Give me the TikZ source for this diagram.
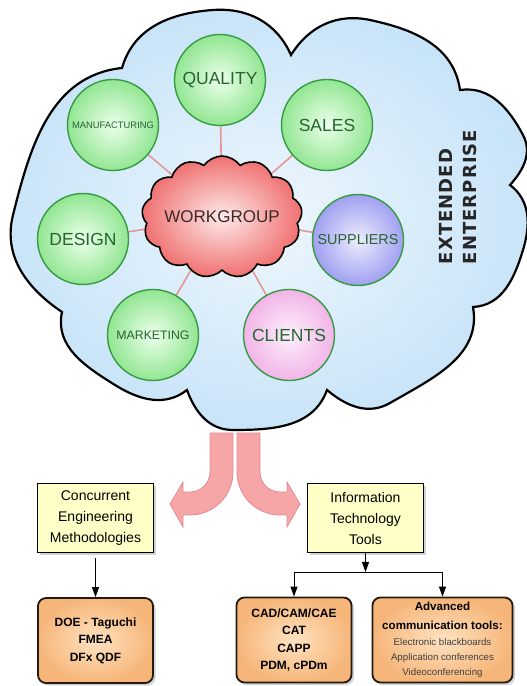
\documentclass[tikz,border=0pt]{standalone}
\usepackage{fontspec}
\setmainfont{Liberation Sans}
\newfontfamily\widefont[LetterSpace=6]{DejaVu Sans Bold}
\usetikzlibrary{shapes.symbols,shadows,arrows.meta,backgrounds,positioning}

\definecolor{skyblue}{RGB}{200,228,248}
\definecolor{mint}{RGB}{236,255,236}
\definecolor{leafgreen}{RGB}{146,230,146}
\definecolor{ringgreen}{RGB}{55,155,65}
\definecolor{textgreen}{RGB}{38,100,50}
\definecolor{supblue}{RGB}{160,160,242}
\definecolor{clipink}{RGB}{242,180,232}
\definecolor{wgred}{RGB}{240,112,112}
\definecolor{linkpink}{RGB}{228,150,150}
\definecolor{forkpink}{RGB}{246,166,166}
\definecolor{forkedge}{RGB}{226,140,150}
\definecolor{paleyellow}{RGB}{255,255,200}
\definecolor{boxorange}{RGB}{246,182,122}
\definecolor{boxlight}{RGB}{255,226,192}

\newcommand\commline[1]{{\normalfont\fontsize{9.7}{14}\selectfont\color{black!75}#1}}

\tikzset{
  dept/.style={circle, minimum size=91pt, inner sep=0pt, draw=ringgreen, line width=1.4pt,
    inner color=mint, outer color=leafgreen, text=textgreen,
    font=\fontsize{17.5}{18}\selectfont},
  link/.style={draw=linkpink, line width=1.6pt},
  methbox/.style={draw, line width=1.3pt, fill=paleyellow, minimum width=116pt,
    minimum height=69pt, align=center, font=\fontsize{14}{21}\selectfont,
    drop shadow={shadow xshift=2.5pt, shadow yshift=-2.5pt, opacity=0.35}},
  toolbox/.style={draw=black!80!brown, line width=1.8pt, rounded corners=8pt,
    inner color=boxlight, outer color=boxorange, minimum width=115pt,
    minimum height=85pt, align=center, font=\bfseries\fontsize{12}{17.5}\selectfont,
    drop shadow={shadow xshift=2.5pt, shadow yshift=-2.5pt, opacity=0.35}},
  feed/.style={-{Triangle[width=7pt,length=10pt]}, line width=0.9pt},
  fork/.style={fill=forkpink, draw=forkedge, line width=0.8pt}
}

\begin{document}
\begin{tikzpicture}[x=1pt, y=1pt]
  \useasboundingbox (0,0) rectangle (527,686);

  % departments round the workgroup
  \node[dept] (quality) at (220,606) {QUALITY};
  \node[dept, font=\fontsize{9.4}{10}\selectfont] (manu) at (113,561) {MANUFACTURING};
  \node[dept] (sales) at (327,561) {SALES};
  \node[dept] (design) at (83,447) {DESIGN};
  \node[dept, outer color=supblue, inner color=white!80!supblue,
    font=\fontsize{14.4}{15}\selectfont] (suppliers) at (358,446) {SUPPLIERS};
  \node[dept, font=\fontsize{12.3}{13}\selectfont] (marketing) at (153,351) {MARKETING};
  \node[dept, outer color=clipink, inner color=white!80!clipink] (clients) at (289,351) {CLIENTS};

  \node[cloud, cloud puffs=13, cloud puff arc=110, cloud ignores aspect,
    minimum width=160pt, minimum height=122pt,
    inner sep=0pt, draw, line width=1.6pt, inner color=white!85!wgred, outer color=wgred,
    text={rgb,255:red,60;green,40;blue,40}, font=\fontsize{17}{17}\selectfont]
    (wg) at (222,469) {WORKGROUP};

  \node[rotate=90, align=left, text=black!85, font=\widefont\fontsize{18}{24}\selectfont]
    (ext) at (458,489) {EXTENDED\\ENTERPRISE};

  \begin{scope}[on background layer]
    \draw[line width=2.2pt, inner color=white!70!skyblue, outer color=skyblue]
      (122,618) to[out=74,in=184] (213,676) to[out=4,in=114]
      (291,631) to[out=58,in=168] (370,666) to[out=-12,in=98]
      (460,596) to[out=8,in=118] (523,551) to[out=-62,in=48]
      (510,501) to[out=-37,in=73] (523,436) to[out=-107,in=3]
      (473,379) to[out=-80,in=30] (390,283) to[out=-150,in=-40]
      (327,296) to[out=250,in=0] (233,256) to[out=180,in=290]
      (187,296) to[out=218,in=328] (115,301) to[out=148,in=258]
      (62,374) to[out=146,in=256] (13,471) to[out=76,in=186]
      (122,618) -- cycle;
    \foreach \d in {quality,manu,sales,design,suppliers,marketing,clients}
      \draw[link] (wg.center) -- (\d.center);
  \end{scope}

  % the two curved arrows
  \filldraw[fork] (210,253) -- (210,214) arc[start angle=0, end angle=-90, radius=20]
    -- (183,194) -- (183,204) -- (170,182) -- (183,159) -- (183,171) -- (190,171)
    arc[start angle=-90, end angle=0, radius=43] -- (233,253) -- cycle;
  \filldraw[fork] (260,253) -- (260,214) arc[start angle=180, end angle=270, radius=20]
    -- (287,194) -- (287,204) -- (300,182) -- (287,159) -- (287,171) -- (280,171)
    arc[start angle=270, end angle=180, radius=43] -- (237,253) -- cycle;

  \node[methbox] (cem) at (95.5,168) {Concurrent\\Engineering\\Methodologies};
  \node[methbox] (itt) at (365.5,168) {Information\\Technology\\Tools};

  \node[toolbox, below=44pt of cem] (doe) {DOE - Taguchi\\FMEA\\DFx QDF};
  \node[toolbox] (cad) at (294,46) {CAD/CAM/CAE\\CAT\\CAPP\\PDM, cPDm};
  \node[toolbox, minimum width=140pt, font=\bfseries\fontsize{11.6}{15}\selectfont] (act)
    at (442.5,46) {Advanced\\[4pt]communication tools:\\[1pt]
    \commline{Electronic blackboards}\\ \commline{Application conferences}\\
    \commline{Videoconferencing}};

  \coordinate (split) at (365.5,114);
  \draw[feed, shorten <=5pt] (cem.south) -- (doe.north);
  \draw[feed] (itt.south) -- (split);
  \draw[feed] (split) -| (cad.north);
  \draw[feed] (split) -| (act.north);
\end{tikzpicture}
\end{document}
